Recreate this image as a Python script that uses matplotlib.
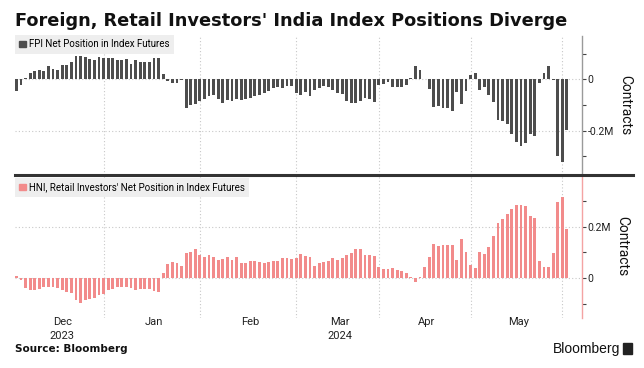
import matplotlib
matplotlib.use("Agg")
import matplotlib.pyplot as plt
import numpy as np
from matplotlib.patches import Patch, Rectangle
from matplotlib.lines import Line2D
from matplotlib import font_manager

# ── Data (million contracts, one bar per trading day, Dec 2023 - Jun 2024) ──
fpi = [
    -0.045, -0.022, 0.003, 0.024, 0.033, 0.035, 0.031, 0.051, 0.041, 0.037,
    0.055, 0.057, 0.067, 0.089, 0.089, 0.085, 0.078, 0.076, 0.085, 0.084,
    0.083, 0.082, 0.073, 0.076, 0.078, 0.060, 0.075, 0.068, 0.067, 0.067,
    0.082, 0.082, 0.020, -0.005, -0.016, -0.016, -0.004, -0.110, -0.100, -0.098,
    -0.085, -0.078, -0.067, -0.060, -0.076, -0.093, -0.082, -0.083, -0.077, -0.080,
    -0.077, -0.074, -0.065, -0.060, -0.052, -0.047, -0.035, -0.029, -0.035, -0.026,
    -0.028, -0.054, -0.060, -0.048, -0.064, -0.040, -0.033, -0.028, -0.031, -0.041,
    -0.052, -0.058, -0.086, -0.093, -0.093, -0.086, -0.071, -0.077, -0.090, -0.022,
    -0.019, -0.009, -0.032, -0.032, -0.030, -0.021, 0.004, 0.052, 0.034, 0.002,
    -0.036, -0.106, -0.104, -0.110, -0.110, -0.124, -0.051, -0.097, -0.045, 0.017,
    0.025, -0.041, -0.031, -0.062, -0.090, -0.157, -0.161, -0.172, -0.212, -0.242,
    -0.260, -0.247, -0.211, -0.220, -0.014, 0.024, 0.050, -0.003, -0.300, -0.320,
    -0.196,
]
hni = [
    0.010, -0.008, -0.039, -0.044, -0.044, -0.040, -0.032, -0.033, -0.034, -0.037,
    -0.047, -0.052, -0.059, -0.086, -0.096, -0.084, -0.082, -0.077, -0.065, -0.061,
    -0.044, -0.041, -0.034, -0.032, -0.034, -0.039, -0.045, -0.040, -0.040, -0.042,
    -0.048, -0.052, 0.021, 0.055, 0.064, 0.059, 0.048, 0.097, 0.103, 0.113,
    0.090, 0.083, 0.090, 0.083, 0.069, 0.076, 0.081, 0.071, 0.083, 0.061,
    0.060, 0.065, 0.067, 0.062, 0.061, 0.064, 0.067, 0.068, 0.077, 0.077,
    0.075, 0.077, 0.095, 0.086, 0.081, 0.049, 0.058, 0.063, 0.066, 0.077,
    0.071, 0.077, 0.090, 0.099, 0.114, 0.114, 0.090, 0.090, 0.086, 0.045,
    0.036, 0.037, 0.039, 0.032, 0.029, 0.020, 0.005, -0.014, 0.004, 0.044,
    0.082, 0.132, 0.124, 0.127, 0.127, 0.129, 0.071, 0.152, 0.103, 0.051,
    0.040, 0.102, 0.094, 0.123, 0.164, 0.214, 0.230, 0.249, 0.270, 0.284,
    0.284, 0.280, 0.242, 0.233, 0.068, 0.044, 0.044, 0.099, 0.296, 0.316,
    0.190,
]
# index of first trading day of each month (Dec, Jan, Feb, Mar, Apr, May, Jun)
month_start = [0, 19, 40, 61, 79, 99, 119]
month_labels = ["Dec\n2023", "Jan", "Feb", "Mar\n2024", "Apr", "May"]

FPI_LABEL = "FPI Net Position in Index Futures"
HNI_LABEL = "HNI, Retail Investors' Net Position in Index Futures"
TITLE = "Foreign, Retail Investors' India Index Positions Diverge"

FPI_COLOR = "#4d4d4d"
HNI_COLOR = "#f28b8b"
GRID = "#c8c8c8"

names = {f.name for f in font_manager.fontManager.ttflist}
NARROW = "Liberation Sans Narrow" if "Liberation Sans Narrow" in names else "Roboto"
plt.rcParams["font.family"] = [NARROW, "DejaVu Sans"]

W, H = 644, 368
fig = plt.figure(figsize=(W / 100, H / 100), dpi=100)
ax1 = fig.add_axes([15 / W, 1 - 175 / H, 567 / W, 139 / H])
ax2 = fig.add_axes([15 / W, 1 - 318 / H, 567 / W, 143 / H], sharex=ax1)

x = np.arange(len(fpi))
ax1.bar(x, fpi, width=0.62, color=FPI_COLOR, zorder=3)
ax2.bar(x, hni, width=0.62, color=HNI_COLOR, zorder=3)

ax1.set_xlim(-0.3, 123.3)
ax1.set_ylim(-0.372, 0.168)
ax2.set_ylim(-0.154, 0.40)


def fmt(v, _=None):
    return "0" if abs(v) < 1e-9 else f"{v:.1f}M"


for ax, major, minor, spc in [
    (ax1, [-0.2, 0.0], [-0.3, -0.1, 0.1], "#9a9a9a"),
    (ax2, [0.0, 0.2], [-0.1, 0.1, 0.3], "#f4a3a3"),
]:
    for s in ["top", "left", "bottom"]:
        ax.spines[s].set_visible(False)
    ax.spines["right"].set_color(spc)
    ax.spines["right"].set_linewidth(1.0)
    ax.yaxis.tick_right()
    ax.yaxis.set_label_position("right")
    ax.set_yticks(major)
    ax.set_yticks(minor, minor=True)
    ax.yaxis.set_major_formatter(plt.FuncFormatter(fmt))
    ax.tick_params(axis="y", which="both", length=3, width=0.8, color="#444444",
                   labelsize=7.5, labelcolor="#222222", pad=1)
    ax.set_ylabel("Contracts", rotation=270, fontsize=10, labelpad=13, color="#111111")
    ax.grid(axis="y", which="major", color=GRID, linestyle=(0, (1, 2)), linewidth=0.8, zorder=0)
    for m in month_start[1:]:
        ax.axvline(m, color=GRID, linestyle=(0, (1, 2)), linewidth=0.8, zorder=0)

ax1.tick_params(axis="x", which="both", bottom=False, labelbottom=False)

label_pos = [(month_start[k] + month_start[k + 1]) / 2 + 0.5 for k in range(len(month_labels))]
ax2.set_xticks(label_pos)
ax2.set_xticklabels(month_labels, linespacing=1.5)
ax2.tick_params(axis="x", length=0, pad=-1, labelsize=8, labelcolor="#222222")

# legends
ax1.legend(handles=[Patch(color=FPI_COLOR)], labels=[FPI_LABEL], loc="upper left",
           bbox_to_anchor=(0, 1.007), frameon=True, fancybox=False, framealpha=1,
           facecolor="#eeeeee", edgecolor="none", handlelength=0.7, handleheight=0.7,
           handletextpad=0.3, borderpad=0.45, borderaxespad=0, fontsize=7)
ax2.legend(handles=[Patch(color=HNI_COLOR)], labels=[HNI_LABEL], loc="upper left",
           bbox_to_anchor=(0, 1 - 3 / 143), frameon=True, fancybox=False, framealpha=1,
           facecolor="#eeeeee", edgecolor="none", handlelength=0.7, handleheight=0.7,
           handletextpad=0.3, borderpad=0.45, borderaxespad=0, fontsize=7)

# divider between panels
fig.add_artist(Line2D([15 / W, 633 / W], [1 - 175 / H, 1 - 175 / H], color="#333333", lw=2.2))

fig.text(15 / W, 1 - 26 / H, TITLE, fontsize=12.8, fontweight="bold", va="baseline",
         color="#111111", family=["DejaVu Sans"])
fig.text(15 / W, 1 - 352 / H, "Source: Bloomberg", fontsize=7.5, fontweight="bold",
         va="baseline", color="#111111", family=["DejaVu Sans"])
fig.text(620 / W, 1 - 353 / H, "Bloomberg", fontsize=10, ha="right", va="baseline",
         color="#111111", family=["Liberation Sans", "DejaVu Sans"])
fig.add_artist(Rectangle((623 / W, 1 - 354 / H), 9 / W, 11 / H, color="#222222"))

fig.savefig("out.png", dpi=100, facecolor="white")
